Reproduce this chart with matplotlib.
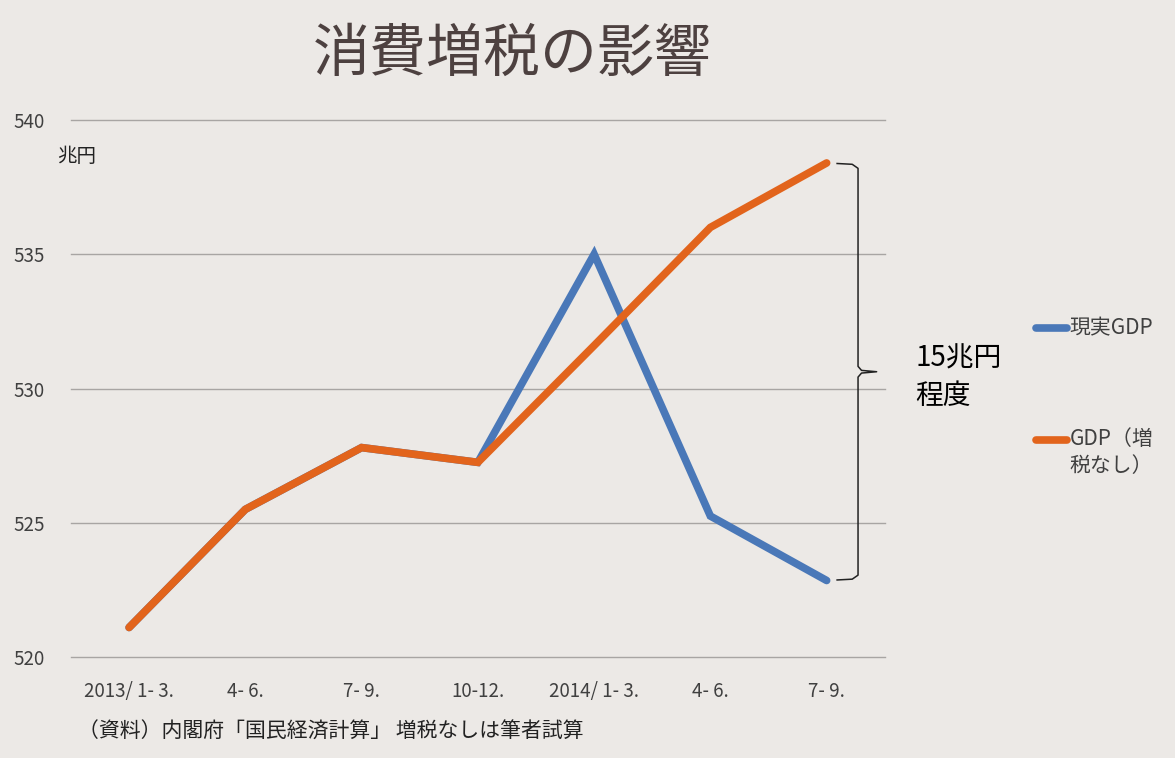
import matplotlib
matplotlib.use("Agg")
import matplotlib.pyplot as plt
from matplotlib.lines import Line2D

plt.rcParams['font.family'] = ['Noto Sans CJK JP', 'DejaVu Sans']

quarters = ['2013/ 1- 3.', '4- 6.', '7- 9.', '10-12.', '2014/ 1- 3.', '4- 6.', '7- 9.']
real_gdp = [521.1, 525.5, 527.8, 527.25, 535.0, 525.25, 522.85]
gdp_no_tax = [521.1, 525.5, 527.8, 527.25, 531.6, 536.0, 538.4]
series_names = ['現実GDP', 'GDP（増\n税なし）']

bg = '#ece9e6'
blue = '#4a78b8'
orange = '#e2641c'
text_col = '#404040'

fig = plt.figure(figsize=(11.75, 7.58), dpi=100, facecolor=bg)
ax = fig.add_axes([0.0604, 0.1332, 0.6926, 0.7085], facecolor=bg)

x = list(range(len(quarters)))
ax.plot(x, real_gdp, color=blue, lw=5.5, solid_capstyle='round', solid_joinstyle='miter', zorder=3)
ax.plot(x, gdp_no_tax, color=orange, lw=5.5, solid_capstyle='round', solid_joinstyle='miter', zorder=4)

ax.set_xlim(-0.5, 6.5)
ax.set_ylim(520, 540)
ax.set_yticks([520, 525, 530, 535, 540])
ax.set_xticks(x)
ax.set_xticklabels(quarters)
ax.yaxis.grid(True, color='#a8a5a3', lw=1)
for gl in ax.get_ygridlines():
    gl.set_clip_on(False)
ax.set_axisbelow(True)
for s in ax.spines.values():
    s.set_visible(False)
ax.tick_params(length=0, colors=text_col, labelsize=13.5)
ax.tick_params(axis='x', pad=17)
ax.tick_params(axis='y', pad=19)

# brace between the two end values
top = gdp_no_tax[-1]
bot = real_gdp[-1]
mid = (top + bot) / 2
bx = 6.27
brace_x = [6.09, 6.22, bx, bx, bx + 0.03, 6.43, bx + 0.03, bx, bx, 6.22, 6.09]
brace_y = [top - 0.02, top - 0.05, top - 0.2, mid + 0.2, mid + 0.05, mid,
           mid - 0.05, mid - 0.2, bot + 0.2, bot + 0.05, bot + 0.02]
ax.plot(brace_x, brace_y, color='#222222', lw=1.1, clip_on=False, zorder=5)

ax.text(6.76, mid - 0.2, '15兆円\n程度', fontsize=20, color='black', va='center', ha='left',
        linespacing=1.3)

fig.text(0.436, 0.928, '消費増税の影響', fontsize=41, color='#4d4140', ha='center', va='center')
fig.text(0.049, 0.793, '兆円', fontsize=14, color='#222222', ha='left', va='center')
fig.text(0.066, 0.035, '（資料）内閣府「国民経済計算」 増税なしは筆者試算', fontsize=15,
         color='#222222', ha='left', va='center')

# legend drawn by hand so the handle sits on the first text line
legend_colors = [blue, orange]
legend_y = [0.567, 0.420]
for name, col, ly in zip(series_names, legend_colors, legend_y):
    fig.add_artist(Line2D([0.8815, 0.9085], [ly, ly], color=col, lw=5.5,
                          solid_capstyle='round', transform=fig.transFigure))
    fig.text(0.9105, ly + 0.015, name, fontsize=15, color=text_col, ha='left', va='top',
             linespacing=1.25)

fig.savefig('out.png', dpi=100, facecolor=bg)
